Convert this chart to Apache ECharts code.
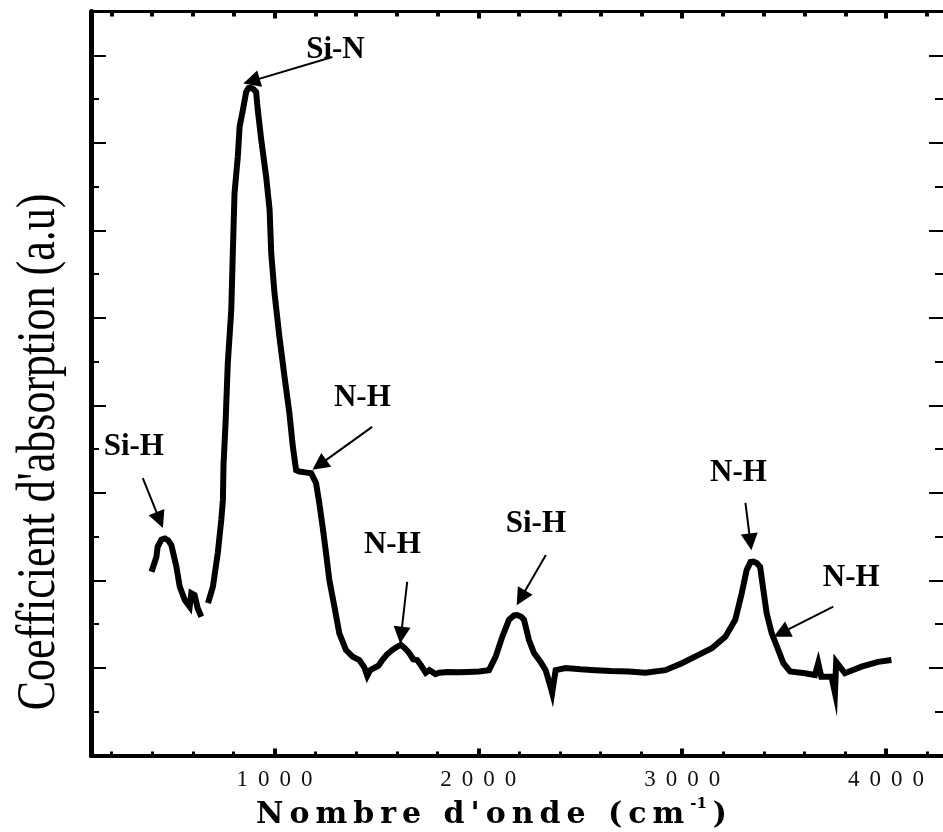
<!DOCTYPE html>
<html><head><meta charset="utf-8">
<script src="https://cdn.jsdelivr.net/npm/echarts@6/dist/echarts.min.js"></script>
<style>html,body{margin:0;padding:0;background:#fff}#c{width:943px;height:832px}</style>
</head><body><div id="c"></div>
<script>
// wavenumber (cm-1) and absorption (a.u.)
const wavenumber = [397,421,427,445,462,478,494,519,535,560,584,592,608,623,641,657,
  674,698,722,739,747,750,760,771,788,796,804,820,829,845,861,872,883,898,910,
  918,935,959,976,984,1000,1024,1049,1073,1090,1106,1122,1150,1180,1204,1220,1236,1253,1269,1294,1318,1351,1383,1416,
  1440,1455,1470,1489,1510,1529,1550,1577,1600,1620,1640,1661,1680,1700,1720,1742,1760,1790,1808,1850,1900,1950,
  2003,2052,2085,2117,2150,2175,2191,2210,2224,2248,2273,2305,2330,2354,2362,2379,2428,2500,2574,2650,2737,2819,2917,
  2998,3080,3145,3211,3260,3292,3316,3335,3349,3365,3382,3398,3414,3439,3471,3496,3529,3602,3651,3667,3682,3732,3749,3755,
  3798,3879,3961,4026];
const absorption = [4.20,4.54,4.77,4.93,4.96,4.92,4.81,4.31,3.86,3.55,3.40,3.71,3.67,3.37,3.17,'-',
  3.48,3.86,4.63,5.38,5.84,6.64,7.60,8.97,10.18,11.55,12.85,13.68,14.37,14.75,15.16,15.25,15.26,15.22,15.16,
  14.75,14.07,13.23,12.47,11.48,10.57,9.57,8.66,7.83,7.06,6.52,6.49,6.47,6.45,6.22,5.76,5.23,4.62,4.01,3.40,2.79,2.41,2.26,2.18,
  2.02,1.82,1.95,2.00,2.05,2.18,2.30,2.41,2.48,2.53,2.45,2.34,2.20,2.18,2.05,1.89,1.95,1.86,1.89,1.91,1.90,1.91,
  1.92,1.95,2.26,2.71,3.10,3.20,3.21,3.17,3.10,2.64,2.34,2.14,1.95,1.57,1.43,1.95,2.00,1.97,1.95,1.93,1.92,1.89,1.95,
  2.11,2.30,2.45,2.71,3.10,3.71,4.24,4.42,4.43,4.40,4.31,3.78,3.25,2.79,2.41,2.11,1.92,1.88,1.84,2.11,1.80,1.80,1.43,2.14,
  1.88,2.03,2.14,2.18];

const xMajorTicks = [1000,2000,3000,4000];
const xMinorTicks = [200,400,600,800,1200,1400,1600,1800,2200,2400,2600,2800,3200,3400,3600,3800,4200];
const yMajorTicks = [0,2,4,6,8,10,12,14,16];
const yMinorTicks = [1,3,5,7,9,11,13,15,17];

// annotations: label, text position, arrow tail, arrow head (data units)
const annLabels = ['Si-H','Si-N','N-H','N-H','Si-H','N-H','N-H'];
const annTextX  = [310,1299,1431,1578,2282,3276,3829];
const annTextY  = [7.05,16.12,8.17,4.81,5.29,6.46,4.06];
const arrFromX  = [354,1284,1479,1651,2331,3310,3741];
const arrFromY  = [6.34,15.96,7.51,3.97,4.58,5.77,3.40];
const arrToX    = [437,887,1220,1621,2209,3334,3486];
const arrToY    = [5.38,15.41,6.64,2.75,3.60,4.88,2.80];

const X_MIN = 100, X_MAX = 4279, Y_MIN = 0, Y_MAX = 17;
const serif = '"Liberation Serif","Times New Roman",serif';
const wideSerif = '"DejaVu Serif",serif';

const chart = echarts.init(document.getElementById('c'), null, {renderer:'canvas'});

function xAxisDef(pos, ticks, len, w, lineW, labels) {
  return {
    type:'value', position:pos, min:X_MIN, max:X_MAX,
    axisLine:{show:lineW>0, onZero:false, lineStyle:{color:'#000', width:lineW||1}},
    axisTick:{show:true, inside:true, customValues:ticks, length:len, lineStyle:{color:'#000', width:w}},
    axisLabel: labels ? {
      show:true, customValues:ticks, margin:13,
      formatter: v => String(v).split('').map(c => '{d|' + c + '}').join(''),
      rich:{d:{fontFamily:serif, fontSize:23, color:'#111', padding:[0,5]}}
    } : {show:false},
    splitLine:{show:false}
  };
}
function yAxisDef(pos, ticks, len, w, lineW) {
  return {
    type:'value', position:pos, min:Y_MIN, max:Y_MAX,
    axisLine:{show:lineW>0, onZero:false, lineStyle:{color:'#000', width:lineW||1}},
    axisTick:{show:true, inside:true, customValues:ticks, length:len, lineStyle:{color:'#000', width:w}},
    axisLabel:{show:false},
    splitLine:{show:false}
  };
}

const titleChars = "Nombre d'onde (cm".split('').map(c => '{c|' + c + '}').join('') + '{s|-1}' + '{c|)}';

chart.setOption({
  animation:false,
  backgroundColor:'#fff',
  grid:{left:91, top:11.5, right:-2, bottom:76.5, containLabel:false},
  title:{
    text:titleChars, left:253, top:797, padding:0,
    textStyle:{
      rich:{
        c:{fontFamily:wideSerif, fontWeight:'bold', fontSize:30, lineHeight:36, color:'#000', padding:[0,3]},
        s:{fontFamily:wideSerif, fontWeight:'bold', fontSize:15, lineHeight:36, color:'#000', verticalAlign:'top', padding:[0,3]}
      }
    }
  },
  xAxis:[
    xAxisDef('bottom', xMajorTicks, 7, 4, 4, true),
    xAxisDef('bottom', xMinorTicks, 4, 3, 0, false),
    xAxisDef('top', xMajorTicks, 7, 4, 3, false),
    xAxisDef('top', xMinorTicks, 5, 4, 0, false)
  ],
  yAxis:[
    yAxisDef('left', yMajorTicks, 15, 2, 5),
    yAxisDef('left', yMinorTicks, 8, 2, 0),
    yAxisDef('right', yMajorTicks, 14, 2, 0),
    yAxisDef('right', yMinorTicks, 8, 2, 0)
  ],
  graphic:[{
    type:'text', x:40, y:452, rotation:Math.PI/2, scaleY:1.25,
    style:{text:"Coefficient d'absorption (a.u)", font:'44px ' + serif, fontSize:44, fontFamily:serif,
      fill:'#000', align:'center', verticalAlign:'middle', textAlign:'center', textVerticalAlign:'middle'}
  }],
  series:[{
    type:'line', xAxisIndex:0, yAxisIndex:0,
    data: wavenumber.map((x,i) => [x, absorption[i]]),
    showSymbol:false, symbol:'none', connectNulls:false,
    lineStyle:{color:'#000', width:6, join:'miter'},
    markLine:{
      silent:true, symbol:['none','triangle'], symbolSize:17,
      label:{show:false},
      lineStyle:{color:'#000', width:2, type:'solid'},
      itemStyle:{color:'#000'},
      emphasis:{disabled:true},
      data: annLabels.map((l,i) => [
        {coord:[arrFromX[i], arrFromY[i]]},
        {coord:[arrToX[i], arrToY[i]]}
      ])
    }
  },{
    type:'scatter', xAxisIndex:0, yAxisIndex:0,
    symbolSize:1, itemStyle:{color:'rgba(0,0,0,0)'}, silent:true,
    data: annLabels.map((l,i) => ({name:l, value:[annTextX[i], annTextY[i]]})),
    label:{show:true, position:'inside', formatter: p => p.name,
      fontFamily:serif, fontWeight:'bold', fontSize:31, color:'#000', opacity:1}
  }]
});
</script></body></html>
